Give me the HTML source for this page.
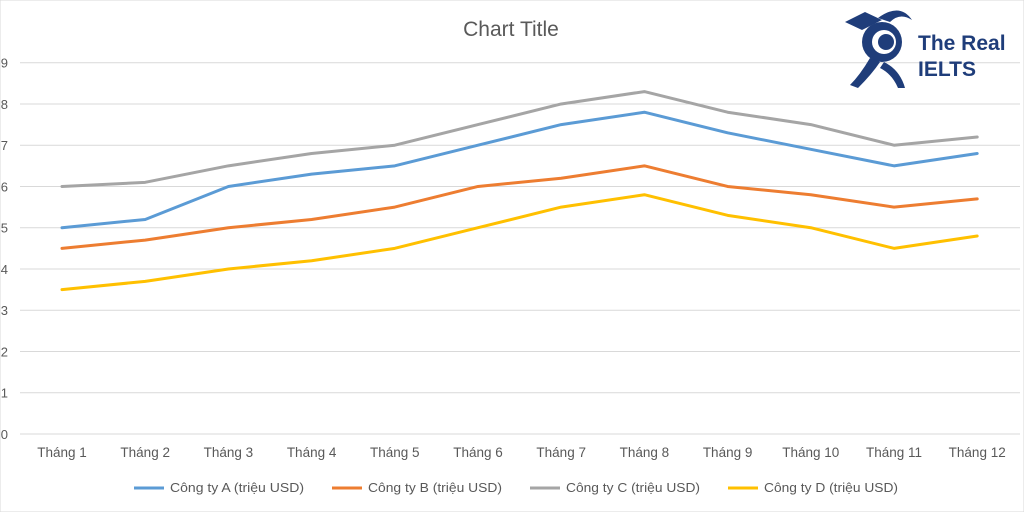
<!DOCTYPE html>
<html><head><meta charset="utf-8"><style>
body{margin:0;background:#fff;width:1024px;height:512px;overflow:hidden;font-family:"Liberation Sans",sans-serif}
</style></head><body>
<svg id="chart" width="1024" height="512" viewBox="0 0 1024 512" xmlns="http://www.w3.org/2000/svg">
<rect x="0" y="0" width="1024" height="512" fill="#fff" stroke="#d9d9d9"/>
<text x="511" y="36" text-anchor="middle" font-size="21" fill="#595959">Chart Title</text>
<g id="grid"></g><g id="series"></g><g id="xlabels"></g><g id="legend"></g>
<g>
<circle cx="882" cy="42" r="20" fill="#1f3d7a"/>
<circle cx="884" cy="42" r="12" fill="#fff"/>
<circle cx="886" cy="42" r="8" fill="#1f3d7a"/>
<path d="M845 22 L865 12 L882 20 L862 30 Z" fill="#1f3d7a"/>
<path d="M878 18 Q900 2 912 20 Q900 12 890 22 Z" fill="#1f3d7a"/>
<path d="M870 58 Q860 75 850 85 L858 88 Q872 74 880 62 Z" fill="#1f3d7a"/>
<path d="M884 62 Q900 70 905 88 L898 88 Q892 74 880 68 Z" fill="#1f3d7a"/>
<text x="918" y="50" font-size="21" font-weight="bold" fill="#1f3d7a">The Real</text>
<text x="918" y="76" font-size="21" font-weight="bold" fill="#1f3d7a">IELTS</text>
</g>
</svg>
<script>
const categories=["Tháng 1","Tháng 2","Tháng 3","Tháng 4","Tháng 5","Tháng 6","Tháng 7","Tháng 8","Tháng 9","Tháng 10","Tháng 11","Tháng 12"];
const seriesNames=["Công ty A (triệu USD)","Công ty B (triệu USD)","Công ty C (triệu USD)","Công ty D (triệu USD)"];
const seriesA=[5.0,5.2,6.0,6.3,6.5,7.0,7.5,7.8,7.3,6.9,6.5,6.8];
const seriesB=[4.5,4.7,5.0,5.2,5.5,6.0,6.2,6.5,6.0,5.8,5.5,5.7];
const seriesC=[6.0,6.1,6.5,6.8,7.0,7.5,8.0,8.3,7.8,7.5,7.0,7.2];
const seriesD=[3.5,3.7,4.0,4.2,4.5,5.0,5.5,5.8,5.3,5.0,4.5,4.8];
const yTicks=[0,1,2,3,4,5,6,7,8,9];
const colors=["#5b9bd5","#ed7d31","#a5a5a5","#ffc000"];
const NS="http://www.w3.org/2000/svg";
const x=i=>62+i*83.2;
const y=v=>434-v*(434-62.7)/9;
function mk(tag,attrs,parent){const e=document.createElementNS(NS,tag);for(const k in attrs)e.setAttribute(k,attrs[k]);document.getElementById(parent).appendChild(e);return e;}
yTicks.forEach(t=>{
 const l=mk('line',{x1:20,x2:1020,y1:y(t),y2:y(t),stroke:'#d9d9d9','stroke-width':1},'grid');
 
 
 const tx=mk('text',{x:8,y:y(t)+5,'text-anchor':'end','font-size':13,fill:'#595959'},'grid');
 tx.textContent=t;
 
 
});
categories.forEach((c,i)=>{
 const tx=mk('text',{x:x(i),y:457,'text-anchor':'middle','font-size':13.5,fill:'#595959'},'xlabels');
 tx.textContent=c;
 
 
});
[seriesA,seriesB,seriesC,seriesD].forEach((s,k)=>{
 const p=mk('polyline',{points:s.map((v,i)=>x(i)+','+y(v)).join(' '),fill:'none',stroke:colors[k],'stroke-width':3,'stroke-linejoin':'round','stroke-linecap':'round'},'series');
 
 
});
const lx=[134,332,530,728];
seriesNames.forEach((n,k)=>{
 const l=mk('line',{x1:lx[k],x2:lx[k]+30,y1:488,y2:488,stroke:colors[k],'stroke-width':3},'legend');
 
 
 const t=mk('text',{x:lx[k]+36,y:492,'font-size':13,textLength:134,lengthAdjust:'spacingAndGlyphs',fill:'#595959'},'legend');
 t.textContent=n;
 
 
});
</script>
</body></html>
